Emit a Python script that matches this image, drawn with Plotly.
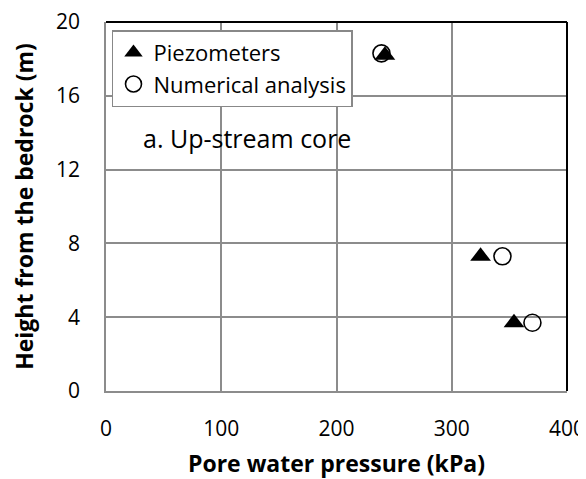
import plotly.graph_objects as go

piezo_x = [242, 325, 354]
piezo_y = [18.2, 7.3, 3.7]
num_x = [239, 344, 370]
num_y = [18.3, 7.3, 3.7]

x_ticks = [0, 100, 200, 300, 400]
y_ticks = [0, 4, 8, 12, 16, 20]

FONT = "Open Sans"

fig = go.Figure()
fig.add_trace(go.Scatter(
    x=num_x, y=num_y, mode="markers", name="Numerical analysis",
    marker=dict(symbol="circle-open", size=17, color="black", line=dict(width=1.6, color="black")),
    legendrank=2,
))
fig.add_trace(go.Scatter(
    x=piezo_x, y=piezo_y, mode="markers", name="Piezometers",
    marker=dict(symbol="triangle-up", size=18, color="black"),
    legendrank=1,
))

fig.add_annotation(x=30, y=13.7, xref="x", yref="y", text="a. Up-stream core",
                   showarrow=False, xanchor="left", yanchor="middle",
                   font=dict(family=FONT, size=25, color="black"))

# black frame on top and right
fig.add_shape(type="line", xref="paper", yref="paper", x0=0, x1=1, y0=1, y1=1,
              line=dict(color="black", width=2))
fig.add_shape(type="line", xref="paper", yref="paper", x0=1, x1=1, y0=0, y1=1,
              line=dict(color="black", width=2))

fig.update_layout(
    width=586, height=471,
    margin=dict(l=98, r=27, t=14, b=88),
    plot_bgcolor="white", paper_bgcolor="white",
    font=dict(family=FONT, size=20, color="black"),
    showlegend=True,
    legend=dict(x=0.013, y=0.978, xanchor="left", yanchor="top",
                bgcolor="white", bordercolor="#888888", borderwidth=1.5,
                font=dict(family=FONT, size=22), itemwidth=30,
                tracegroupgap=0),
    xaxis=dict(range=[0, 400], tickvals=x_ticks, showgrid=True, gridcolor="#8c8c8c", gridwidth=1.5,
               showline=True, linecolor="#8c8c8c", linewidth=1.5, ticks="", zeroline=False,
               automargin=False, ticklabeloverflow="allow",
               ticklabelstandoff=18, tickfont=dict(family=FONT, size=21),
               title=dict(text="<b>Pore water pressure (kPa)</b>", font=dict(family=FONT, size=23), standoff=18)),
    yaxis=dict(range=[0, 20], tickvals=y_ticks, showgrid=True, gridcolor="#8c8c8c", gridwidth=1.5,
               showline=True, linecolor="#8c8c8c", linewidth=1.5, ticks="", zeroline=False,
               automargin=False, ticklabeloverflow="allow",
               ticklabelstandoff=20, tickfont=dict(family=FONT, size=21),
               title=dict(text="<b>Height from the bedrock (m)</b>", font=dict(family=FONT, size=23), standoff=21)),
)

fig.write_html("out.html")
